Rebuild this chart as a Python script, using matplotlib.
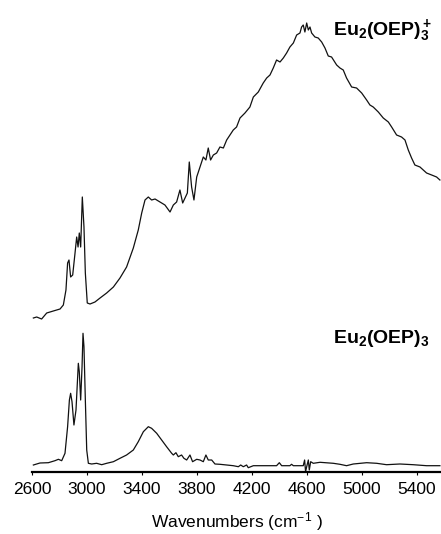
import matplotlib
matplotlib.use("Agg")
import matplotlib.pyplot as plt

plt.rcParams['font.family'] = ['Liberation Sans', 'DejaVu Sans']
plt.rcParams['mathtext.fontset'] = 'custom'
plt.rcParams['mathtext.rm'] = 'Liberation Sans'
plt.rcParams['mathtext.bf'] = 'Liberation Sans:bold'
plt.rcParams['mathtext.it'] = 'Liberation Sans:italic'

# Eu2(OEP)3+ spectrum (wavenumber, intensity a.u.)
wn_cation = [2610, 2634, 2670, 2707, 2755, 2804, 2828, 2847, 2859, 2869, 2881, 2896, 2913, 2925,
             2935, 2944, 2954, 2966, 2978, 2988, 3002, 3022, 3058, 3095, 3143, 3192, 3240, 3288,
             3337, 3373, 3398, 3422, 3446, 3470, 3495, 3531, 3567, 3604, 3628, 3652, 3676, 3696,
             3713, 3730, 3744, 3761, 3778, 3798, 3822, 3846, 3865, 3882, 3899, 3919, 3943, 3967,
             3992, 4016, 4040, 4064, 4088, 4113, 4149, 4185, 4210, 4246, 4282, 4307, 4331, 4355,
             4379, 4404, 4428, 4452, 4476, 4501, 4525, 4549, 4561, 4573, 4585, 4598, 4610, 4622,
             4634, 4658, 4682, 4707, 4731, 4755, 4779, 4816, 4840, 4864, 4888, 4925, 4961, 4998,
             5034, 5058, 5082, 5119, 5155, 5192, 5216, 5252, 5288, 5313, 5337, 5361, 5385, 5422,
             5446, 5470, 5507, 5543, 5567]
int_cation = [154, 155, 153, 159, 161, 163, 167, 182, 209, 212, 195, 197, 219, 235,
              225, 239, 225, 275, 245, 199, 169, 168, 170, 174, 179, 185, 194, 205,
              224, 242, 259, 272, 275, 272, 273, 270, 267, 260, 267, 270, 282, 269,
              274, 279, 310, 285, 272, 295, 305, 315, 312, 324, 312, 317, 319, 325,
              324, 332, 337, 342, 345, 354, 359, 365, 375, 380, 389, 394, 397, 404,
              412, 410, 414, 419, 425, 429, 437, 439, 445, 447, 440, 449, 442, 445,
              439, 435, 434, 430, 424, 416, 415, 407, 404, 402, 394, 385, 384, 379,
              372, 367, 365, 360, 354, 350, 345, 337, 335, 332, 322, 314, 307, 305,
              302, 299, 297, 295, 292]

# Eu2(OEP)3 spectrum (wavenumber, intensity a.u.)
wn_neutral = [2610, 2658, 2719, 2767, 2792, 2816, 2840, 2859, 2872, 2881, 2891, 2905, 2920, 2937,
              2944, 2954, 2964, 2971, 2978, 2988, 2998, 3010, 3034, 3070, 3107, 3143, 3192, 3240,
              3288, 3337, 3373, 3410, 3446, 3470, 3507, 3543, 3579, 3616, 3628, 3647, 3664, 3688,
              3705, 3725, 3749, 3768, 3798, 3822, 3846, 3865, 3882, 3907, 3931, 3967, 4016, 4064,
              4101, 4118, 4137, 4161, 4173, 4210, 4307, 4379, 4399, 4416, 4476, 4488, 4501, 4573,
              4583, 4590, 4598, 4610, 4617, 4627, 4646, 4695, 4792, 4840, 4888, 4937, 5034, 5107,
              5179, 5276, 5373, 5470, 5567]
int_neutral = [7, 9, 9.3, 11.3, 12.7, 11.3, 18.7, 45.3, 72, 78.7, 70.3, 47, 62, 108.7,
               100.3, 72, 105.3, 138.7, 125.3, 72, 22, 8.7, 8, 8.7, 7.3, 8.7, 10.3, 13.7,
               17, 22, 30.3, 40.3, 45.3, 43.7, 38.7, 32, 25.3, 18.7, 17, 19.3, 15.3, 17,
               13.7, 12, 17, 10.3, 12.7, 12, 10.3, 17, 12, 12, 8, 7.7, 7, 6.3,
               5.3, 7, 5.3, 7, 4.3, 6.3, 6.3, 6.3, 9.3, 6.3, 6.3, 7.7, 6.3, 6.3,
               12, 0.3, 5.3, 12, 2, 10.3, 8.7, 9.7, 8.7, 7.7, 6.3, 8, 9.3, 8.7,
               7.3, 8, 7.3, 6.3, 6.3]

xticks = [2600, 3000, 3400, 3800, 4200, 4600, 5000, 5400]

fig = plt.figure(figsize=(4.41, 5.34), dpi=100)
ax = fig.add_axes([32 / 441, (534 - 472) / 534, 1 - 32 / 441, 472 / 534])

ax.plot(wn_cation, int_cation, color='#111111', lw=0.9)
ax.plot(wn_neutral, int_neutral, color='#111111', lw=0.9, clip_on=False)

ax.set_xlim(2600, 5575)
ax.set_ylim(0, 472)

for s in ['top', 'right', 'left']:
    ax.spines[s].set_visible(False)
ax.spines['bottom'].set_linewidth(1.6)
ax.set_yticks([])
ax.set_xticks(xticks)
ax.set_xticklabels([str(t) for t in xticks])
ax.tick_params(axis='x', direction='out', length=2.5, width=0.8, labelsize=12.5, pad=5)
ax.set_xlabel('Wavenumbers (cm$^{-1}$ )', fontsize=12.5, labelpad=9)

ax.text(4789, 437, r'$\mathbf{Eu_2(OEP)_3^+}$', fontsize=14, ha='left', va='baseline')
ax.text(4789, 129, r'$\mathbf{Eu_2(OEP)_3}$', fontsize=14, ha='left', va='baseline')

fig.savefig('out.png', dpi=100)
